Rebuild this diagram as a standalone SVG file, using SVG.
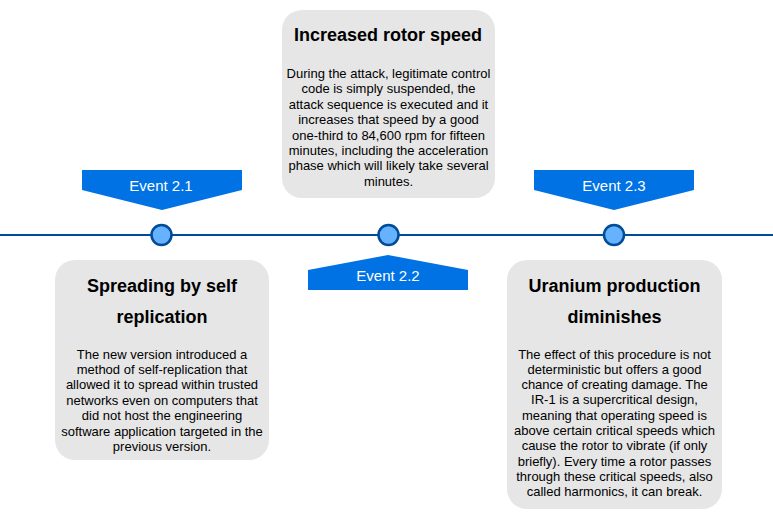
<svg xmlns="http://www.w3.org/2000/svg" width="773" height="512" viewBox="0 0 773 512">
<style>
.box{fill:#E6E6E6;stroke:none}
.title{font-family:"Liberation Sans",Arial,sans-serif;font-size:18px;font-weight:bold;fill:#000;text-anchor:middle}
.body{font-family:"Liberation Sans",Arial,sans-serif;font-size:13px;fill:#000;text-anchor:middle}
.callout{fill:#0072E3;stroke:none}
.clabel{font-family:"Liberation Sans",Arial,sans-serif;font-size:15px;fill:#fff;text-anchor:middle}
.dot{fill:#66B2FF;stroke:#004C99;stroke-width:2.5}
.axis{stroke:#004C99;stroke-width:2.2;fill:none}
</style>
<rect width="773" height="512" fill="#fff"/>
<g id="connectors">
<line class="axis" x1="0" y1="235" x2="773" y2="235"/>
</g>
<g id="dot1"><circle class="dot" cx="161.5" cy="235" r="10"/></g>
<g id="dot2"><circle class="dot" cx="388.5" cy="235" r="10"/></g>
<g id="dot3"><circle class="dot" cx="614" cy="235" r="10"/></g>
<g id="event21">
<polygon class="callout" points="82,170 242,170 242,190 162,210 82,190"/>
<text class="clabel" x="161" y="190.5">Event 2.1</text>
</g>
<g id="event22">
<polygon class="callout" points="308,290 468,290 468,270 388,255 308,270"/>
<text class="clabel" x="388" y="280.5">Event 2.2</text>
</g>
<g id="event23">
<polygon class="callout" points="534,170 694,170 694,190 614,210 534,190"/>
<text class="clabel" x="614" y="190.5">Event 2.3</text>
</g>
<g id="box-rotor">
<rect class="box" x="282" y="10" width="213" height="188" rx="20"/>
<text class="title" x="388" y="41">Increased rotor speed</text>
<text class="body" x="388.5" y="78">During the attack, legitimate control</text>
<text class="body" x="388.5" y="93.4">code is simply suspended, the</text>
<text class="body" x="388.5" y="108.8">attack sequence is executed and it</text>
<text class="body" x="388.5" y="124.2">increases that speed by a good</text>
<text class="body" x="388.5" y="139.6">one-third to 84,600 rpm for fifteen</text>
<text class="body" x="388.5" y="155">minutes, including the acceleration</text>
<text class="body" x="388.5" y="170.4">phase which will likely take several</text>
<text class="body" x="388.5" y="185.8">minutes.</text>
</g>
<g id="box-spreading">
<rect class="box" x="55" y="260" width="214" height="200" rx="20"/>
<text class="title" x="162" y="291.5">Spreading by self</text>
<text class="title" x="162" y="322.5">replication</text>
<text class="body" x="162" y="358.5">The new version introduced a</text>
<text class="body" x="162" y="373.9">method of self-replication that</text>
<text class="body" x="162" y="389.3">allowed it to spread within trusted</text>
<text class="body" x="162" y="404.7">networks even on computers that</text>
<text class="body" x="162" y="420.1">did not host the engineering</text>
<text class="body" x="162" y="435.5">software application targeted in the</text>
<text class="body" x="162" y="450.9">previous version.</text>
</g>
<g id="box-uranium">
<rect class="box" x="507" y="260" width="215" height="249" rx="20"/>
<text class="title" x="614.5" y="291.5">Uranium production</text>
<text class="title" x="614.5" y="322.5">diminishes</text>
<text class="body" x="614.5" y="358.5">The effect of this procedure is not</text>
<text class="body" x="614.5" y="373.8">deterministic but offers a good</text>
<text class="body" x="614.5" y="389.1">chance of creating damage. The</text>
<text class="body" x="614.5" y="404.4">IR-1 is a supercritical design,</text>
<text class="body" x="614.5" y="419.7">meaning that operating speed is</text>
<text class="body" x="614.5" y="435">above certain critical speeds which</text>
<text class="body" x="614.5" y="450.3">cause the rotor to vibrate (if only</text>
<text class="body" x="614.5" y="465.6">briefly). Every time a rotor passes</text>
<text class="body" x="614.5" y="480.9">through these critical speeds, also</text>
<text class="body" x="614.5" y="496.2">called harmonics, it can break.</text>
</g>
</svg>
